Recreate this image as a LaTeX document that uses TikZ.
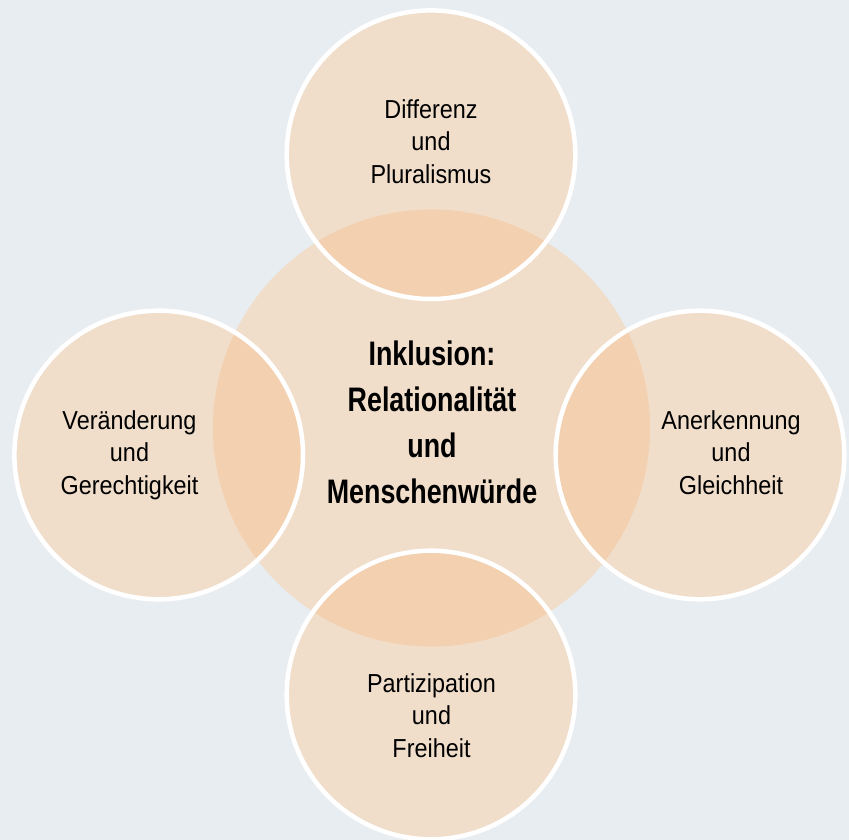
\documentclass[tikz,border=0pt]{standalone}
\usepackage{fontspec}
\newfontfamily\regf[FakeStretch=0.9]{Liberation Sans}
\newfontfamily\boldf[FakeStretch=0.79]{Liberation Sans}
\definecolor{bgc}{RGB}{232,237,242}
\definecolor{peach}{RGB}{240,222,203}
\definecolor{peachdark}{RGB}{243,208,175}
\begin{document}
\begin{tikzpicture}[x=1pt,y=1pt,
  lbl/.style={anchor=north, inner sep=0pt, align=center, font=\regf\fontsize{26}{32.5}\selectfont},
  titletext/.style={anchor=north, inner sep=0pt, align=center, font=\boldf\bfseries\fontsize{34}{46}\selectfont},
  bigdisc/.style={circle, fill=peach, inner sep=0pt, minimum size=437pt},
  smalldisc/.style={circle, fill=peach, inner sep=0pt, minimum size=288.6pt},
  ring/.style={draw=white, line width=4.5pt}]
\fill[bgc] (0,0) rectangle (849,-840);
\useasboundingbox (0,0) rectangle (849,-840);
% discs
\node[bigdisc] (cc) at (431.5,-428) {};
\node[smalldisc] (top) at (431,-154.7) {};
\node[smalldisc] (bot) at (431,-695) {};
\node[smalldisc] (lft) at (158.7,-455) {};
\node[smalldisc] (rgt) at (700,-455) {};
% overlaps
\begin{scope}
  \clip (cc.center) circle (218.5);
  \foreach \n in {top,bot,lft,rgt}{\fill[peachdark] (\n.center) circle (144.3);}
\end{scope}
% white rings
\foreach \n in {top,bot,lft,rgt}{\draw[ring] (\n.center) circle (144.3);}
% texts
\node[lbl] (ttop) at (431,-99) {Differenz\\und\\Pluralismus};
\node[lbl] (tlft) at (129.5,-410) {Veränderung\\und\\Gerechtigkeit};
\node[lbl] (trgt) at (731,-410) {Anerkennung\\und\\Gleichheit};
\node[lbl] (tbot) at (431.5,-673) {Partizipation\\und\\Freiheit};
\node[titletext] (tcc) at (432,-341) {Inklusion:\\Relationalität\\und\\Menschenwürde};
\end{tikzpicture}
\end{document}
